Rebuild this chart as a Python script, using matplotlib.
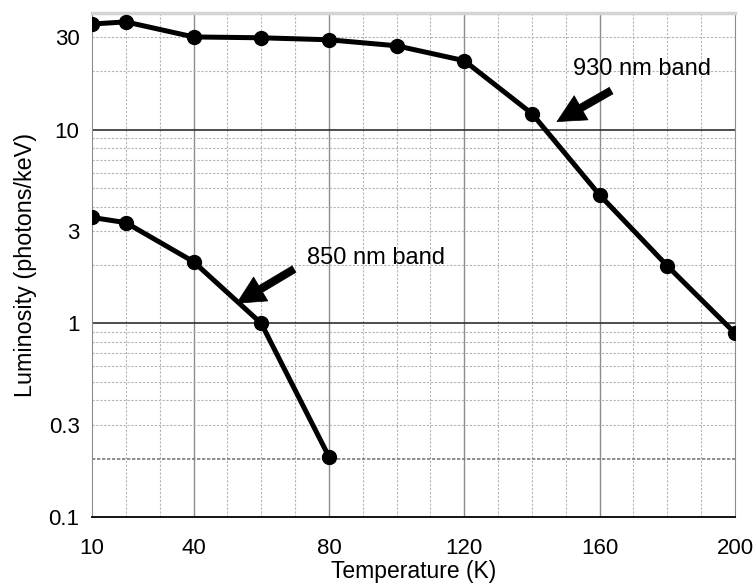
import matplotlib.pyplot as plt
from matplotlib.ticker import FixedLocator, NullLocator, FixedFormatter

plt.rcParams['font.family'] = ['Liberation Sans', 'DejaVu Sans']

# temperature points (K) and luminosity (photons/keV)
temp_930 = [10, 20, 40, 60, 80, 100, 120, 140, 160, 180, 200]
lum_930 = [35.1, 36.0, 30.1, 29.8, 29.1, 27.1, 22.7, 12.1, 4.6, 1.98, 0.89]

temp_850 = [10, 20, 40, 60, 80]
lum_850 = [3.52, 3.31, 2.08, 1.0, 0.205]

x_ticks = [10, 40, 80, 120, 160, 200]
y_ticks = [0.1, 0.3, 1, 3, 10, 30]
y_tick_labels = ['0.1', '0.3', '1', '3', '10', '30']

fig = plt.figure(figsize=(7.56, 5.84), dpi=100)
ax = fig.add_axes([0.1217, 0.1147, 0.9722 - 0.1217, 0.9777 - 0.1147])

ax.set_yscale('log')
ax.set_xlim(10, 200)
ax.set_ylim(0.1, 40)

# grid: light dashed every 10 K, solid grey at labelled temperatures
for xv in range(20, 200, 10):
    if xv in x_ticks:
        ax.axvline(xv, color='#8c8c8c', lw=1.0, zorder=1)
    else:
        ax.axvline(xv, color='#b4b4b4', lw=0.8, ls=(0, (2, 1.5)), zorder=1)

for dec in [0.1, 1, 10]:
    for m in range(1, 10):
        yv = dec * m
        if yv >= 40 or yv <= 0.1:
            continue
        if m == 1:
            ax.axhline(yv, color='#303030', lw=1.2, zorder=1)
        elif abs(yv - 0.2) < 1e-9:
            ax.axhline(yv, color='#7a7a7a', lw=1.2, ls=(0, (2, 1)), zorder=1)
        else:
            ax.axhline(yv, color='#b4b4b4', lw=0.8, ls=(0, (2, 1.5)), zorder=1)

ax.plot(temp_930, lum_930, color='black', lw=3.6, marker='o', ms=10, zorder=5)
ax.plot(temp_850, lum_850, color='black', lw=3.6, marker='o', ms=10, zorder=5)

arrow = dict(arrowstyle='simple,head_length=1.0,head_width=1.0,tail_width=0.27',
             fc='black', ec='black', lw=0.5, shrinkA=0, shrinkB=0, mutation_scale=20)
ax.annotate('', xy=(147.4, 11.0), xytext=(163.4, 15.9), arrowprops=arrow, zorder=6)
ax.annotate('', xy=(52.8, 1.27), xytext=(69.7, 1.905), arrowprops=arrow, zorder=6)
ax.text(152.1, 20.6, '930 nm band', fontsize=17, ha='left', va='center', zorder=6)
ax.text(73.5, 2.17, '850 nm band', fontsize=17, ha='left', va='center', zorder=6)

ax.xaxis.set_major_locator(FixedLocator(x_ticks))
ax.xaxis.set_minor_locator(NullLocator())
ax.yaxis.set_major_locator(FixedLocator(y_ticks))
ax.yaxis.set_major_formatter(FixedFormatter(y_tick_labels))
ax.yaxis.set_minor_locator(NullLocator())
ax.tick_params(axis='both', length=0, labelsize=16)
ax.tick_params(axis='x', pad=15)
ax.tick_params(axis='y', pad=9)

ax.spines['bottom'].set_color('black')
ax.spines['bottom'].set_linewidth(1.3)
ax.spines['top'].set_color('#d4d4d4')
ax.spines['top'].set_linewidth(2.5)
ax.spines['left'].set_color('#8c8c8c')
ax.spines['right'].set_color('#8c8c8c')

ax.set_ylabel('Luminosity (photons/keV)', fontsize=16.8, labelpad=8)
fig.text(0.547, 0.021, 'Temperature (K)', fontsize=16.5, ha='center', va='center')

fig.savefig('out.png', dpi=100)
